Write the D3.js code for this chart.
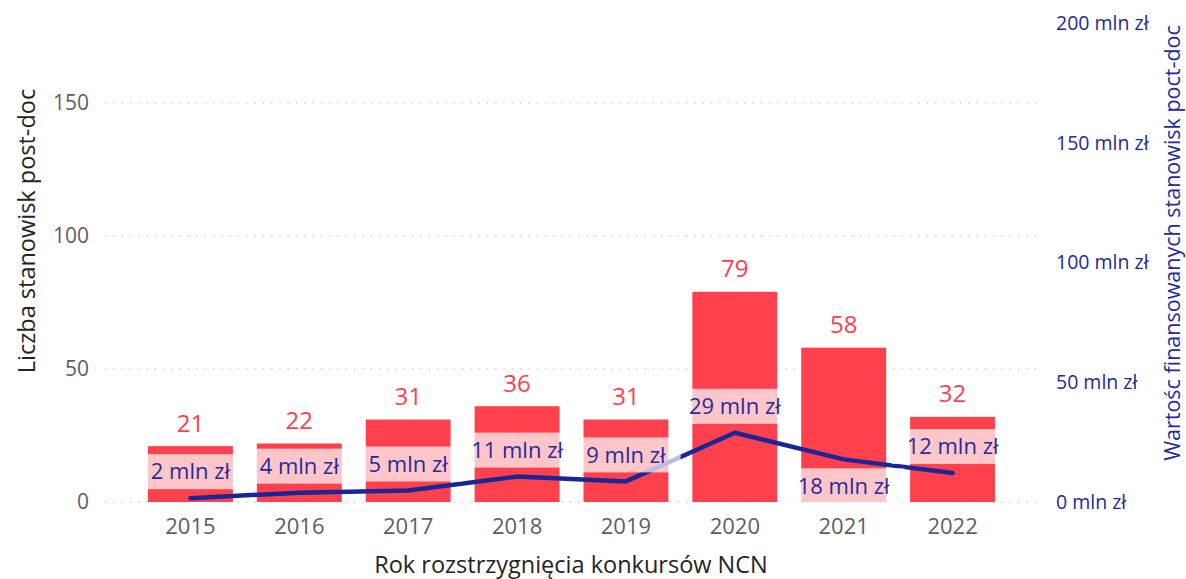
<!DOCTYPE html>
<meta charset="utf-8">
<style>
body{margin:0;background:#fff;}
svg{display:block;font-family:"Segoe UI","Open Sans","Noto Sans",sans-serif;}
.grid line{stroke:#c8c6c4;stroke-dasharray:1.3,7;stroke-width:1.3;}
.tick-x{fill:#605e5c;font-size:22px;}
.tick-l{fill:#605e5c;font-size:21px;}
.tick-r{fill:#252a9a;font-size:19.5px;}
.bar-label{fill:#ff404e;font-size:24px;}
.line-label{fill:#252b9c;font-size:22px;}
</style>
<body>
<div id="chart"></div>
<script src="https://cdn.jsdelivr.net/npm/d3@7"></script>
<script>
// dane
var years = ["2015","2016","2017","2018","2019","2020","2021","2022"];
var positions = [21, 22, 31, 36, 31, 79, 58, 32];
var funding = [1.6, 3.9, 4.8, 10.6, 8.6, 28.9, 17.8, 12.1]; // mln zł
var leftTicks = [0, 50, 100, 150];
var rightTicks = [0, 50, 100, 150, 200];

var W = 1186, H = 579;
var svg = d3.select("#chart").append("svg").attr("width", W).attr("height", H);

var x = d3.scaleBand().domain(years).range([136, 1007]).paddingInner(0.22).paddingOuter(0.11);
var yL = d3.scaleLinear().domain([0, 180]).range([502, 23]);
var yR = d3.scaleLinear().domain([0, 200]).range([502, 23]);

// siatka
svg.append("g").attr("class","grid").selectAll("line")
  .data(leftTicks).enter().append("line")
  .attr("x1", 105).attr("x2", 1040)
  .attr("y1", function(d){ return yL(d); }).attr("y2", function(d){ return yL(d); });

// osie
svg.append("g").selectAll("text").data(leftTicks).enter().append("text")
  .attr("class","tick-l").attr("x", 89).attr("y", function(d){ return yL(d); })
  .attr("dy","0.35em").attr("text-anchor","end").text(function(d){ return d; });

svg.append("g").selectAll("text").data(rightTicks).enter().append("text")
  .attr("class","tick-r").attr("x", 1056).attr("y", function(d){ return yR(d); })
  .attr("dy","0.35em").text(function(d){ return d + " mln zł"; });

svg.append("g").selectAll("text").data(years).enter().append("text")
  .attr("class","tick-x").attr("x", function(d){ return x(d) + x.bandwidth()/2; })
  .attr("y", 526).attr("dy","0.35em").attr("text-anchor","middle").text(function(d){ return d; });

svg.append("text").attr("x", 571).attr("y", 565).attr("dy","0.35em")
  .attr("text-anchor","middle").style("font-size","23.5px").style("fill","#252423")
  .text("Rok rozstrzygnięcia konkursów NCN");

svg.append("text").attr("transform","translate(27,231) rotate(-90)").attr("dy","0.35em")
  .attr("text-anchor","middle").style("font-size","23.5px").style("fill","#252423")
  .text("Liczba stanowisk post-doc");

svg.append("text").attr("transform","translate(1172,243) rotate(-90)").attr("dy","0.35em")
  .attr("text-anchor","middle").style("font-size","21.5px").style("fill","#252a9a")
  .text("Wartośc finansowanych stanowisk poct-doc");

// słupki
svg.append("g").selectAll("rect").data(years).enter().append("rect")
  .attr("x", function(d){ return x(d); })
  .attr("width", x.bandwidth())
  .attr("y", function(d,i){ return yL(positions[i]); })
  .attr("height", function(d,i){ return yL(0) - yL(positions[i]); })
  .attr("fill", "#ff414d");

svg.append("g").selectAll("text").data(years).enter().append("text")
  .attr("class","bar-label")
  .attr("x", function(d){ return x(d) + x.bandwidth()/2; })
  .attr("y", function(d,i){ return yL(positions[i]) - 23; })
  .attr("dy","0.35em").attr("text-anchor","middle")
  .text(function(d,i){ return positions[i]; });

// linia
var line = d3.line()
  .x(function(d,i){ return x(years[i]) + x.bandwidth()/2; })
  .y(function(d){ return yR(d); });

svg.append("path").datum(funding).attr("d", line)
  .attr("fill","none").attr("stroke","#1a2696").attr("stroke-width",4.5)
  .attr("stroke-linejoin","round").attr("stroke-linecap","round");

// etykiety linii z półprzezroczystym tłem
var lbl = svg.append("g").selectAll("g").data(years).enter().append("g");
lbl.each(function(d,i){
  var g = d3.select(this);
  var cx = x(d) + x.bandwidth()/2;
  var py = yR(funding[i]);
  // etykieta pod punktem, gdy linia opada od szczytu (jak w oryginale dla 2021)
  var below = i > 0 && i < years.length-1 && funding[i] < funding[i-1] && funding[i] > funding[i+1];
  var h = 35;
  var top = below ? py + 9 : py - 9 - h;
  var t = g.append("text").attr("class","line-label")
    .attr("x", cx).attr("y", top + h/2).attr("dy","0.35em").attr("text-anchor","middle")
    .text(Math.round(funding[i]) + " mln zł");
  var w = t.node().getComputedTextLength() + 30;
  g.insert("rect","text").attr("x", cx - w/2).attr("y", top).attr("width", w).attr("height", h)
    .attr("fill","#fff").attr("fill-opacity",0.7);
});
</script>
